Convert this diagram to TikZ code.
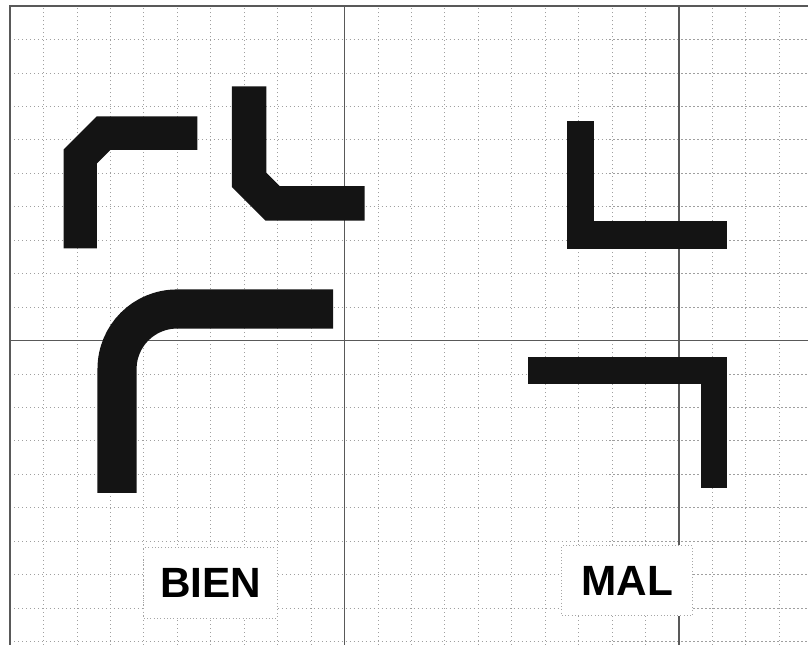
\documentclass[tikz,border=0pt]{standalone}
\usepackage{fontspec}
\setmainfont{Liberation Sans}

\tikzset{
  trace/.style={line width=#1cm, line join=miter, line cap=butt, black!92},   % piste
  minor/.style={gray!75, line width=0.6pt, dash pattern=on 1pt off 2.4pt},
  major/.style={black!65, line width=1pt},
  tag/.style={fill=white, draw=gray!70, dotted, line width=0.8pt,
    minimum width=#1cm, minimum height=2.1cm,
    font=\bfseries\fontsize{36}{40}\selectfont}
}

\begin{document}
\begin{tikzpicture}
	\useasboundingbox (-0.3,-0.1) rectangle (23.86,19.18);

	% grid
	\foreach \x in {1,...,23} \draw[minor] (\x,-0.1) -- (\x,19);
	\foreach \y in {0,...,18} \draw[minor] (0,\y) -- (23.86,\y);
	\draw[major] (10,-0.1) -- (10,19) (20,-0.1) -- (20,19) (0,9) -- (23.86,9);
	% frame
	\draw[major, line width=1.6pt] (0,-0.1) -- (0,19) -- (23.86,19);

	% bien
	\draw[trace=1.0] (2.1,11.75) -- (2.1,14.5) -- (2.8,15.2) -- (5.6,15.2);
	\draw[trace=1.03] (7.15,16.6) -- (7.15,13.8) -- (7.85,13.1) -- (10.6,13.1);
	\draw[trace=1.17] (3.2,4.44) -- (3.2,8.15) arc (180:90:1.79) -- (9.66,9.94);
	% mal
	\draw[trace=0.82] (17.05,15.55) -- (17.05,12.15) -- (21.45,12.15);
	\draw[trace=0.8] (15.5,8.1) -- (21.05,8.1) -- (21.05,4.6);

	% labels
	\node[tag=4.0] (bien) at (6,1.75) {BIEN};
	\node[tag=3.9] (mal) at (18.45,1.82) {MAL};

\end{tikzpicture}
\end{document}
